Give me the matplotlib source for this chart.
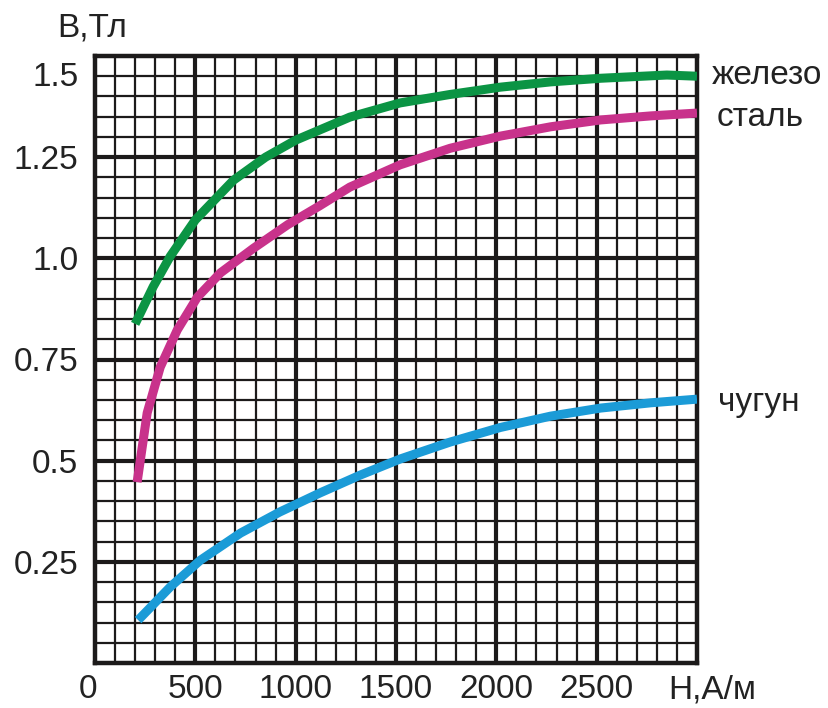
import numpy as np
import matplotlib.pyplot as plt
from matplotlib.transforms import ScaledTranslation

plt.rcParams['font.family'] = ['Liberation Sans', 'DejaVu Sans']

# B(H) curves
h_iron = [200, 290, 375, 500, 690, 850, 1000, 1270, 1520, 1770, 2020, 2270, 2520, 2850, 3000]
b_iron = [0.838, 0.930, 1.005, 1.095, 1.193, 1.250, 1.292, 1.349, 1.384, 1.405, 1.423, 1.436, 1.445, 1.453, 1.450]

h_steel = [210, 260, 325, 410, 510, 625, 790, 960, 1120, 1270, 1520, 1770, 2020, 2270, 2520, 2770, 3000]
b_steel = [0.447, 0.618, 0.731, 0.823, 0.904, 0.964, 1.025, 1.083, 1.130, 1.176, 1.231, 1.272, 1.302, 1.325, 1.342, 1.352, 1.359]

h_cast = [215, 375, 525, 725, 920, 1120, 1320, 1520, 1770, 2020, 2270, 2520, 2770, 3000]
b_cast = [0.106, 0.188, 0.254, 0.321, 0.373, 0.420, 0.464, 0.504, 0.546, 0.582, 0.610, 0.630, 0.643, 0.652]

names = ['железо', 'сталь', 'чугун']
colors = ['#0b9444', '#c8328b', '#1b9bd7']

xticks = [0, 500, 1000, 1500, 2000, 2500]
yticks = [0.25, 0.5, 0.75, 1.0, 1.25, 1.5]
yticklabels = ['0.25', '0.5', '0.75', '1.0', '1.25', '1.5']

fig = plt.figure(figsize=(8.29, 7.08), dpi=100)
ax = fig.add_axes([95/829, 1 - 663/708, 602/829, 607/708])

ax.set_xlim(0, 3000)
ax.set_ylim(0, 1.5)

grid_c = '#1c1a1a'
for x in np.arange(100, 3000, 100):
    lw = 3.0 if x % 500 == 0 else 1.6
    ax.axvline(x, color=grid_c, lw=lw, zorder=1)
for y in np.arange(0.05, 1.5, 0.05):
    lw = 3.0 if abs(y / 0.25 - round(y / 0.25)) < 1e-6 else 1.6
    ax.axhline(y, color=grid_c, lw=lw, zorder=1)

for s in ax.spines.values():
    s.set_linewidth(3.2)
    s.set_color(grid_c)

for (h, b), c in zip([(h_iron, b_iron), (h_steel, b_steel), (h_cast, b_cast)], colors):
    ax.plot(h, b, color=c, lw=6.5, solid_capstyle='butt', solid_joinstyle='round', zorder=3)

ax.set_xticks(xticks)
ax.set_xticklabels([str(v) for v in xticks], fontsize=24, color='#222222')
ax.set_yticks(yticks)
ax.set_yticklabels(yticklabels, fontsize=24, color='#222222')
ax.tick_params(length=0, pad=12)
ax.tick_params(axis='x', pad=8)

# nudge "0" left and "1.5" down as in the source
lbl0 = ax.get_xticklabels()[0]
lbl0.set_transform(lbl0.get_transform() + ScaledTranslation(-0.07, 0, fig.dpi_scale_trans))
lbl15 = ax.get_yticklabels()[-1]
lbl15.set_transform(lbl15.get_transform() + ScaledTranslation(0, -0.18, fig.dpi_scale_trans))

fig.text(92/829, 1 - 28/708, 'В,Тл', fontsize=24, color='#222222', ha='center', va='center')
fig.text(712/829, 1 - 690/708, 'Н,А/м', fontsize=24, color='#222222', ha='center', va='center')

label_y = [75, 117, 402]
label_x = [712, 717, 718]
for n, lx, ly in zip(names, label_x, label_y):
    fig.text(lx/829, 1 - ly/708, n, fontsize=24, color='#222222', ha='left', va='center')

fig.savefig('out.png', dpi=100)
